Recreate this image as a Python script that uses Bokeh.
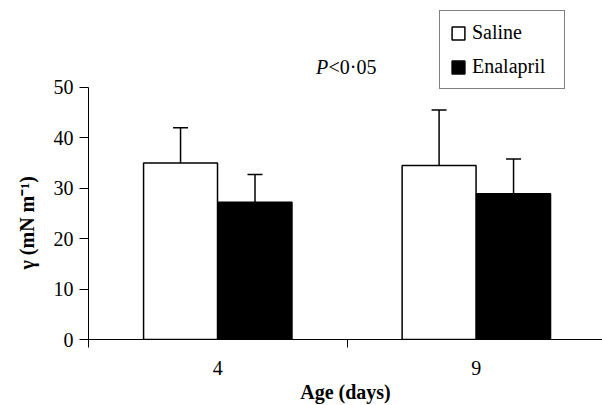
from bokeh.plotting import figure
from bokeh.models import (ColumnDataSource, Range1d, FixedTicker, Whisker, TeeHead,
                          Legend, LegendItem, Label, Title)
from bokeh.embed import file_html
from bokeh.resources import INLINE

# ---- data ----
ages = ["4", "9"]
saline_mean = [35.0, 34.5]
saline_err = [7.0, 11.0]
enalapril_mean = [27.2, 28.9]
enalapril_err = [5.5, 6.9]
y_ticks = [0, 10, 20, 30, 40, 50]

FONT = "Liberation Serif"
FS = "20px"

bar_w = 0.286
off = 0.144
idx = list(range(len(ages)))
sal_x = [i + 0.5 - off for i in idx]
ena_x = [i + 0.5 + off for i in idx]

sal_src = ColumnDataSource(dict(x=sal_x, top=saline_mean,
                                upper=[m + e for m, e in zip(saline_mean, saline_err)]))
ena_src = ColumnDataSource(dict(x=ena_x, top=enalapril_mean,
                                upper=[m + e for m, e in zip(enalapril_mean, enalapril_err)]))

p = figure(width=602, height=405, output_backend="svg", toolbar_location=None,
           x_range=Range1d(0, 1.988), y_range=Range1d(0, 67.2),
           min_border_left=87, min_border_right=0, min_border_top=0, min_border_bottom=65)
p.outline_line_color = None
p.grid.visible = False
p.background_fill_color = "white"
p.border_fill_color = "white"

r_sal = p.vbar(x="x", top="top", width=bar_w, source=sal_src, fill_color="white",
               line_color="black", line_width=1.5)
r_ena = p.vbar(x="x", top="top", width=bar_w, source=ena_src, fill_color="black",
               line_color="black", line_width=1.5)

for src in (sal_src, ena_src):
    w = Whisker(source=src, base="x", lower="top", upper="upper", dimension="height",
                line_color="black", line_width=1.5, lower_head=None,
                upper_head=TeeHead(size=15, line_color="black", line_width=1.5))
    p.add_layout(w)

# y axis
ya = p.yaxis[0]
ya.ticker = FixedTicker(ticks=y_ticks)
ya.bounds = (0, 50)
ya.major_tick_out = 9
ya.major_tick_in = 0
ya.minor_tick_out = 0
ya.minor_tick_in = 0
ya.major_label_standoff = 6
ya.major_label_text_font = FONT
ya.major_label_text_font_size = FS
ya.major_label_text_color = "black"
ya.axis_line_color = "black"
ya.major_tick_line_color = "black"

# x axis
xa = p.xaxis[0]
xa.ticker = FixedTicker(ticks=[i + 0.5 for i in idx], minor_ticks=[0, 1, 2])
xa.major_label_overrides = {i + 0.5: a for i, a in zip(idx, ages)}
xa.major_tick_out = 0
xa.major_tick_in = 0
xa.minor_tick_out = 8
xa.minor_tick_in = 0
xa.minor_tick_line_color = "black"
xa.major_label_standoff = 13
xa.major_label_text_font = FONT
xa.major_label_text_font_size = FS
xa.major_label_text_color = "black"
xa.axis_line_color = "black"
xa.axis_label = "Age (days)"
xa.axis_label_standoff = 3
xa.axis_label_text_font = FONT
xa.axis_label_text_font_size = FS
xa.axis_label_text_font_style = "bold"
xa.axis_label_text_color = "black"

# y label as a left-side title
p.add_layout(Title(text="γ (mN m⁻¹)", align="left", offset=70, standoff=26,
                   text_font=FONT, text_font_size=FS, text_font_style="bold",
                   text_color="black"), "left")

# P value annotation
p.add_layout(Label(x=0.880, y=54.0, text="P", text_font=FONT, text_font_size=FS,
                   text_font_style="italic", text_baseline="alphabetic", text_color="black"))
p.add_layout(Label(x=0.880, y=54.0, x_offset=12.5, text="<0·05", text_font=FONT,
                   text_font_size=FS, text_baseline="alphabetic", text_color="black"))

legend = Legend(items=[LegendItem(label="Saline", renderers=[r_sal]),
                       LegendItem(label="Enalapril", renderers=[r_ena])],
                location=(351, 250), margin=0, padding=10, spacing=11,
                glyph_width=16, glyph_height=16, label_standoff=6, label_width=82,
                label_text_font=FONT, label_text_font_size=FS, label_text_color="black",
                border_line_color="black", border_line_width=1,
                background_fill_color="white", background_fill_alpha=1.0)
p.add_layout(legend)

open("out.html", "w").write(file_html(p, INLINE))
